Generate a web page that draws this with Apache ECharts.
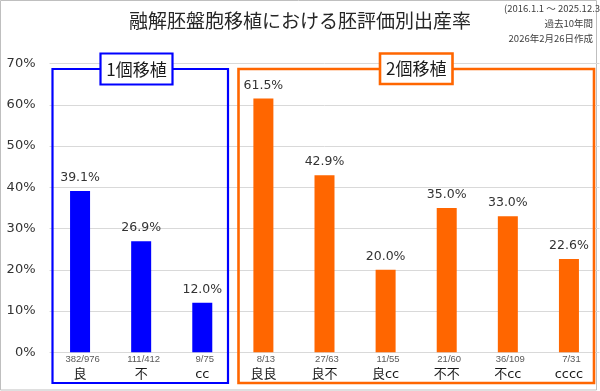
<!DOCTYPE html>
<html>
<head>
<meta charset="utf-8">
<script src="https://cdn.jsdelivr.net/npm/echarts@6/dist/echarts.min.js"></script>
<style>
html,body{margin:0;padding:0;background:#fff;}
#chart{width:600px;height:391px;}
</style>
</head>
<body>
<div id="chart"></div>
<script>
const categories = ['良', '不', 'cc', '良良', '良不', '良cc', '不不', '不cc', 'cccc'];
const rates = [39.1, 26.9, 12.0, 61.5, 42.9, 20.0, 35.0, 33.0, 22.6];
const counts = ['382/976', '111/412', '9/75', '8/13', '27/63', '11/55', '21/60', '36/109', '7/31'];
const groupOf = [0, 0, 0, 1, 1, 1, 1, 1, 1];
const groupNames = ['1個移植', '2個移植'];
const groupColors = ['#0000FF', '#FF6600'];
const titleText = '融解胚盤胞移植における胚評価別出産率';
const noteLines = ['(2016.1.1 ～ 2025.12.31)', '過去10年間', '2026年2月26日作成'];

const FONT = 'DejaVu Sans, "Noto Sans CJK JP", sans-serif';
const JFONT = '"Noto Sans CJK JP", sans-serif';

const chart = echarts.init(document.getElementById('chart'), null, {renderer: 'canvas'});

const option = {
  animation: false,
  backgroundColor: '#fff',
  grid: {left: 49.5, right: 0.5, top: 63.5, bottom: 38.7, containLabel: false},
  xAxis: {
    type: 'category',
    data: categories,
    axisLine: {show: false},
    axisTick: {show: false},
    axisLabel: {
      interval: 0,
      margin: 1,
      formatter: (v, i) => '{a|' + counts[i] + '}\n{b|' + v + '}',
      rich: {
        a: {fontFamily: 'Liberation Sans, sans-serif', fontSize: 9.5, color: '#595959', lineHeight: 12, padding: [0, 0, 0, 5]},
        b: {fontFamily: FONT, fontSize: 13, color: '#1a1a1a', lineHeight: 18}
      }
    }
  },
  yAxis: {
    type: 'value',
    min: 0,
    max: 70,
    interval: 10,
    axisLine: {show: false},
    axisTick: {show: false},
    splitLine: {lineStyle: {color: '#d9d9d9', width: 1}},
    axisLabel: {formatter: '{value}%', fontFamily: FONT, fontSize: 13, color: '#333', margin: 14}
  },
  series: [{
    type: 'bar',
    barWidth: 20,
    data: rates.map((v, i) => ({value: v, itemStyle: {color: groupColors[groupOf[i]]}})),
    label: {
      show: true,
      position: 'top',
      distance: 7,
      formatter: p => p.value.toFixed(1) + '%',
      fontFamily: FONT,
      fontSize: 12.5,
      color: '#333'
    },
    z: 3
  }],
  graphic: [
    {type: 'rect', shape: {x: 0.5, y: 0.5, width: 596, height: 389.5}, style: {fill: 'none', stroke: '#bfbfbf', lineWidth: 1}, z: 0, silent: true},
    {type: 'text', x: 300, y: 21, style: {text: titleText, font: '19px ' + JFONT, fill: '#262626', textAlign: 'center', textVerticalAlign: 'middle'}},
    {type: 'text', x: 504, y: 8, style: {text: noteLines[0], font: '9.5px ' + JFONT, fill: '#404040', textAlign: 'left', textVerticalAlign: 'middle'}},
    {type: 'text', x: 593, y: 23, style: {text: noteLines[1], font: '9.5px ' + JFONT, fill: '#404040', textAlign: 'right', textVerticalAlign: 'middle'}},
    {type: 'text', x: 593, y: 38, style: {text: noteLines[2], font: '9.5px ' + JFONT, fill: '#404040', textAlign: 'right', textVerticalAlign: 'middle'}},
    {type: 'rect', shape: {x: 52.5, y: 69, width: 175.5, height: 314}, style: {fill: 'none', stroke: groupColors[0], lineWidth: 2.2}, z: 10, silent: true},
    {type: 'rect', shape: {x: 238.5, y: 69, width: 355.5, height: 314}, style: {fill: 'none', stroke: groupColors[1], lineWidth: 2.6}, z: 10, silent: true},
    {type: 'rect', shape: {x: 100.5, y: 53.5, width: 72, height: 31}, style: {fill: '#fff', stroke: groupColors[0], lineWidth: 2.2}, z: 11, silent: true},
    {type: 'text', x: 136.5, y: 69.5, style: {text: groupNames[0], font: '17px ' + JFONT, fill: '#1a1a1a', textAlign: 'center', textVerticalAlign: 'middle'}, z: 12},
    {type: 'rect', shape: {x: 380, y: 53.5, width: 72.5, height: 30.5}, style: {fill: '#fff', stroke: groupColors[1], lineWidth: 2.6}, z: 11, silent: true},
    {type: 'text', x: 416.3, y: 69, style: {text: groupNames[1], font: '17px ' + JFONT, fill: '#1a1a1a', textAlign: 'center', textVerticalAlign: 'middle'}, z: 12}
  ]
};
chart.setOption(option);
</script>
</body>
</html>
